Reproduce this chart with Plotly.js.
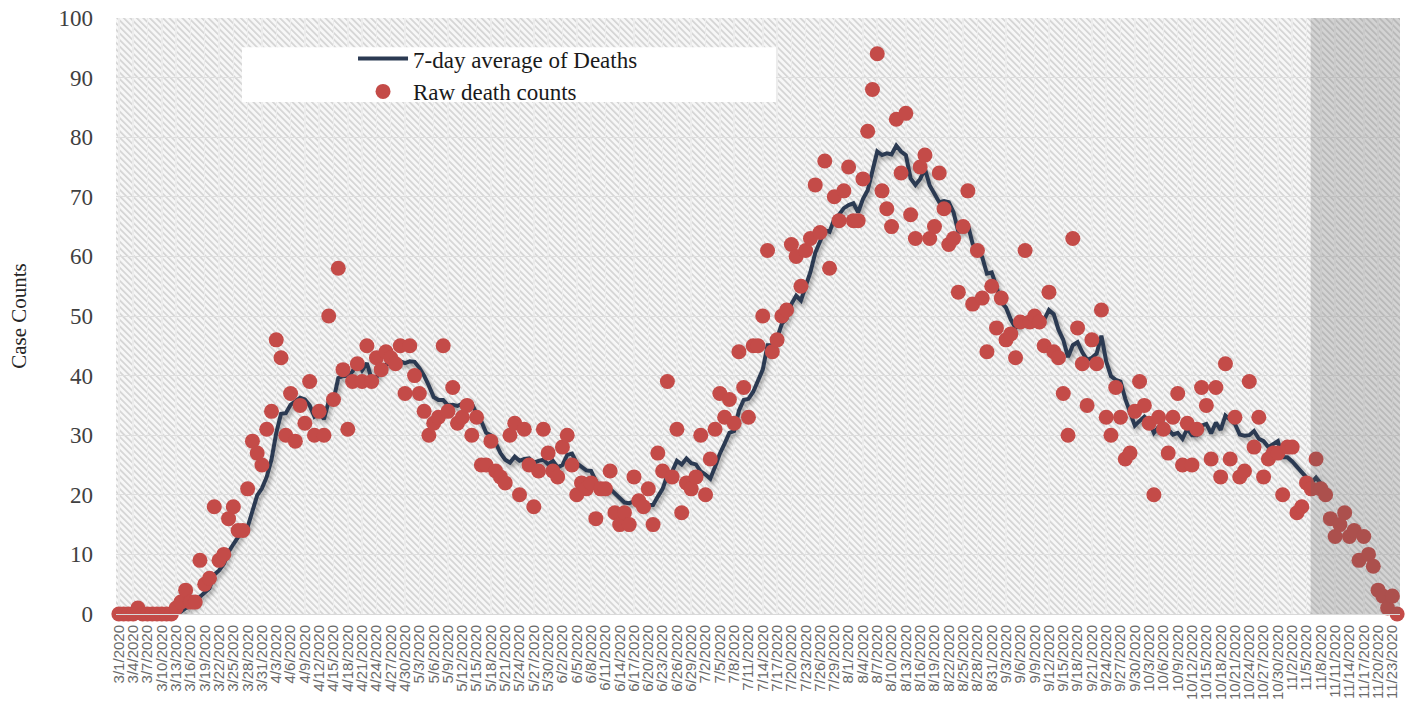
<!DOCTYPE html>
<html>
<head>
<meta charset="utf-8">
<script src="https://cdn.plot.ly/plotly-3.0.1.min.js"></script>
<style>
  html, body { margin: 0; padding: 0; background: #ffffff; }
  #chart { width: 1413px; height: 717px; }
  #chart .scatterlayer .trace:first-child path.js-line {
    filter: drop-shadow(2px 3px 2px rgba(0,0,0,0.35));
  }
</style>
</head>
<body>
<div id="chart"></div>
<script>
// ---------- data ----------
const startDate = '2020-03-01';           // first category (3/1/2020)
const dayCount = 269;                     // 3/1/2020 ... 11/24/2020

// Raw daily death counts
const rawDeaths = [
  0,0,0,0,1,0,0,0,0,0,
  0,0,1,2,4,2,2,9,5,6,
  18,9,10,16,18,14,14,21,29,27,
  25,31,34,46,43,30,37,29,35,32,
  39,30,34,30,50,36,58,41,31,39,
  42,39,45,39,43,41,44,43,42,45,
  37,45,40,37,34,30,32,33,45,34,
  38,32,33,35,30,33,25,25,29,24,
  23,22,30,32,20,31,25,18,24,31,
  27,24,23,28,30,25,20,22,21,22,
  16,21,21,24,17,15,17,15,23,19,
  18,21,15,27,24,39,23,31,17,22,
  21,23,30,20,26,31,37,33,36,32,
  44,38,33,45,45,50,61,44,46,50,
  51,62,60,55,61,63,72,64,76,58,
  70,66,71,75,66,66,73,81,88,94,
  71,68,65,83,74,84,67,63,75,77,
  63,65,74,68,62,63,54,65,71,52,
  61,53,44,55,48,53,46,47,43,49,
  61,49,50,49,45,54,44,43,37,30,
  63,48,42,35,46,42,51,33,30,38,
  33,26,27,34,39,35,32,20,33,31,
  27,33,37,25,32,25,31,38,35,26,
  38,23,42,26,33,23,24,39,28,33,
  23,26,27,27,20,28,28,17,18,22,
  21,26,21,20,16,13,15,17,13,14,
  9,13,10,8,4,3,1,3,0
];

// 7-day average line, starts on day index 6 (3/7/2020)
const avgStartIndex = 6;
const avgDeaths = [
  0.1,0.1,0.1,0.1,0.1,0,0.1,0.4,1.0,1.3,
  1.6,2.9,3.6,4.3,6.6,7.3,8.4,10.4,11.7,13.0,
  14.1,14.6,17.4,19.9,21.1,23.0,25.9,30.4,33.6,33.7,
  35.1,35.7,36.3,36.0,35.0,33.1,33.7,32.7,35.7,35.9,
  39.6,39.9,40.0,40.7,42.4,40.9,42.1,39.4,39.7,41.1,
  41.9,42.0,42.4,42.4,42.1,42.4,42.3,41.3,40.0,38.3,
  36.4,35.9,35.9,35.0,35.1,34.9,35.3,35.7,35.3,33.6,
  32.3,30.4,30.0,28.7,27.0,25.9,25.4,26.4,25.7,26.0,
  26.1,25.4,25.7,25.9,25.1,25.7,24.6,25.0,26.7,26.9,
  25.3,24.6,24.1,24.0,22.3,21.0,20.4,21.0,20.3,19.4,
  18.7,18.6,18.9,18.6,17.7,18.3,18.3,19.7,21.0,23.3,
  23.9,25.7,25.1,26.1,25.3,25.1,23.9,23.4,22.7,24.7,
  26.9,28.6,30.4,30.7,34.1,35.9,36.1,37.3,39.0,41.0,
  45.1,45.1,46.3,48.7,49.6,52.0,53.4,52.6,55.0,57.4,
  60.6,62.4,64.4,64.1,66.3,67.0,68.1,68.6,68.9,67.4,
  69.6,71.1,74.3,77.6,77.0,77.3,77.1,78.6,77.6,77.0,
  73.1,72.0,73.0,74.7,71.9,70.6,69.1,69.3,69.1,67.4,
  64.1,64.4,65.3,62.1,61.1,59.9,57.1,57.3,54.9,52.3,
  51.4,49.4,48.0,48.7,49.6,49.7,49.3,49.7,49.4,51.0,
  50.3,47.7,46.0,43.1,45.1,45.6,43.9,42.6,43.0,43.7,
  46.7,42.4,39.9,39.3,39.0,36.1,34.0,31.6,32.4,33.1,
  32.3,30.4,31.4,32.0,31.0,30.1,30.4,29.4,31.1,30.0,
  30.0,31.6,31.9,30.3,32.1,30.9,33.3,32.6,31.9,30.1,
  29.9,30.0,30.7,29.4,29.0,28.0,28.6,29.0,26.3,26.3,
  25.6,24.7,23.6,22.9,22.0,22.9,21.9
];

const seriesNames = ['7-day average of Deaths', 'Raw death counts'];
const yAxisTitle = 'Case Counts';
const shadedStart = '2020-11-05 21:00';   // start of the grey-shaded recent period

// ---------- category dates ----------
const dates = [];
const t0 = Date.parse(startDate + 'T00:00:00Z');
for (let i = 0; i < dayCount; i++) {
  dates.push(new Date(t0 + i * 86400000).toISOString().slice(0, 10));
}
const avgDates = dates.slice(avgStartIndex, avgStartIndex + avgDeaths.length);

const xRange = ['2020-02-29 09:36', '2020-11-24 14:24'];

// ---------- hatched background (decoration) ----------
const W = 1284, H = 596;
const svg =
  `<svg xmlns="http://www.w3.org/2000/svg" width="${W}" height="${H}">` +
  `<defs><pattern id="h" width="4.6" height="4.6" patternUnits="userSpaceOnUse" patternTransform="rotate(-45)">` +
  `<rect width="4.6" height="4.6" fill="#f7f7f7"/><rect width="1.7" height="4.6" fill="#d4d4d4"/></pattern></defs>` +
  `<rect width="${W}" height="${H}" fill="url(#h)"/></svg>`;
const hatchURI = 'data:image/svg+xml;charset=utf-8,' + encodeURIComponent(svg);

// ---------- traces ----------
const lineTrace = {
  type: 'scatter', mode: 'lines', name: seriesNames[0],
  x: avgDates, y: avgDeaths,
  line: { color: '#2b3a52', width: 4 },
  hoverinfo: 'x+y'
};
const dotTrace = {
  type: 'scatter', mode: 'markers', name: seriesNames[1],
  x: dates, y: rawDeaths,
  marker: { color: '#c44b48', size: 15 },
  cliponaxis: false,
  hoverinfo: 'x+y'
};

const serif = 'Liberation Serif, Times New Roman, serif';

const layout = {
  width: 1413, height: 717,
  margin: { l: 116, r: 13, t: 18, b: 103 },
  paper_bgcolor: '#ffffff',
  plot_bgcolor: '#f7f7f7',
  showlegend: true,
  legend: {
    x: 0.1846, xanchor: 'left', y: 0.968, yanchor: 'top',
    bgcolor: 'rgba(0,0,0,0)', borderwidth: 0,
    font: { family: serif, size: 23, color: '#1a1a1a' },
    itemwidth: 50, tracegroupgap: 0
  },
  xaxis: {
    type: 'date', range: xRange,
    tick0: startDate, dtick: 3 * 86400000,
    tickformat: '%-m/%-d/%Y', tickangle: -90,
    tickfont: { family: 'Liberation Sans, Arial, sans-serif', size: 15, color: '#6a6a6a' },
    ticks: '', ticklabelstandoff: 4,
    showgrid: true, gridcolor: '#ececec', gridwidth: 1.5,
    showline: true, linecolor: '#d9d9d9', linewidth: 1,
    zeroline: false, fixedrange: true
  },
  yaxis: {
    range: [0, 100], dtick: 10, tick0: 0,
    tickfont: { family: serif, size: 23, color: '#404040' },
    ticks: '', ticklabelstandoff: 22,
    showgrid: true, gridcolor: '#dedede', gridwidth: 1,
    zeroline: false, showline: false,
    title: { text: yAxisTitle, font: { family: serif, size: 21, color: '#262626' }, standoff: 26 },
    fixedrange: true
  },
  images: [{
    source: hatchURI, xref: 'paper', yref: 'paper',
    x: 0, y: 1, sizex: 1, sizey: 1, sizing: 'stretch',
    xanchor: 'left', yanchor: 'top', layer: 'below'
  }],
  shapes: [
    { // grey shaded recent period (semi-transparent, over the marks)
      type: 'rect', layer: 'above', xref: 'x', yref: 'paper',
      x0: shadedStart, x1: xRange[1], y0: 0, y1: 1,
      fillcolor: 'rgba(95,95,95,0.24)', line: { width: 0 }
    },
    { // white legend box
      type: 'rect', layer: 'above', xref: 'paper', yref: 'paper',
      x0: 0.0981, x1: 0.514, y0: 0.859, y1: 0.951,
      fillcolor: '#ffffff', line: { width: 0 }
    }
  ]
};

Plotly.newPlot('chart', [lineTrace, dotTrace], layout, { displayModeBar: false, staticPlot: true });
</script>
</body>
</html>
